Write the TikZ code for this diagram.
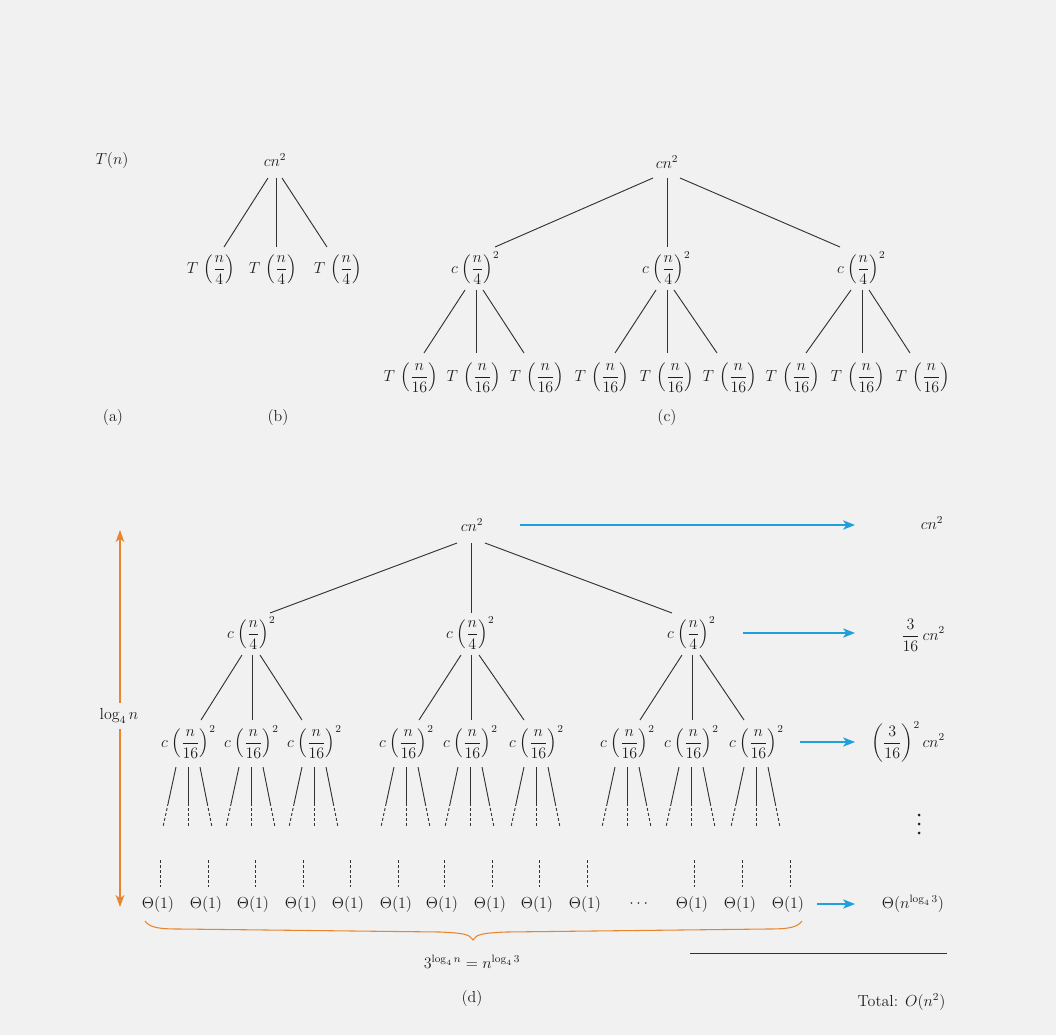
\documentclass[tikz,border=0pt]{standalone}
\usepackage{amsmath}
\usetikzlibrary{calc,arrows.meta}
\definecolor{bg}{HTML}{F1F1F1}
\definecolor{ink}{HTML}{1E1E1E}
\definecolor{lineg}{HTML}{333333}
\definecolor{cblue}{RGB}{30,160,220}
\definecolor{corange}{RGB}{232,134,48}
\newcommand{\cfr}[1]{\llap{$c\mkern1mu$}\left(\dfrac{n}{#1}\right)\!\rlap{$\displaystyle{\vphantom{\left(\dfrac{n}{#1}\right)}}^{2}$}}
\newcommand{\tfr}[1]{T\,\left(\dfrac{n}{#1}\right)}
\tikzset{
  lbl/.style={text=ink, inner sep=1pt, font=\fontsize{12}{14}\selectfont},
  edge/.style={draw=lineg, line width=0.7pt},
  dedge/.style={draw=lineg, line width=0.7pt, dash pattern=on 2.2pt off 1.6pt},
  barrow/.style={draw=cblue, line width=0.9pt, -{Stealth[length=9pt,width=7pt,inset=2.5pt]}},
  oarrow/.style={draw=corange, line width=0.9pt, -{Stealth[length=9pt,width=6.5pt,inset=2.5pt]}},
}
\begin{document}
\begin{tikzpicture}[x=0.75pt,y=-0.75pt]
\fill[bg] (0,0) rectangle (1056,1035);
\useasboundingbox (0,0) rectangle (1056,1035);

% ---------- (a)
\node[lbl] (Tn) at (112,160) {$T(n)$};
\node[lbl] (la) at (113,418) {(a)};

% ---------- (b)
\node[lbl] (b0) at (275,160) {$cn^2$};
\node[lbl] (b1) at (211,270) {$\displaystyle\tfr{4}$};
\node[lbl] (b2) at (273,270) {$\displaystyle\tfr{4}$};
\node[lbl] (b3) at (338,270) {$\displaystyle\tfr{4}$};
\draw[edge] ($(b0)+(-7,18)$) -- ($(b1)+(13,-23)$);
\draw[edge] ($(b0)+(1,18)$) -- ($(b2)+(3,-23)$);
\draw[edge] ($(b0)+(7,18)$) -- ($(b3)+(-11,-23)$);
\node[lbl] (lb) at (278,418) {(b)};

% ---------- (c)
\node[lbl] (c0) at (667,162) {$cn^2$};
\foreach \i/\x in {1/476,2/667,3/862}{
  \node[lbl] (c\i) at (\x,268) {$\displaystyle\cfr{4}$};
}
\draw[edge] ($(c0)+(-14,16)$) -- ($(c1)+(19,-21)$);
\draw[edge] ($(c0)+(0,16)$) -- ($(c2)+(0,-21)$);
\draw[edge] ($(c0)+(13,16)$) -- ($(c3)+(-22,-21)$);
\foreach \n/\x in {c11/411,c12/474,c13/537,c21/602,c22/667,c23/730,c31/793,c32/858,c33/923}{
  \node[lbl] (\n) at (\x,378) {$\displaystyle\tfr{16}$};
}
\foreach \i in {1,2,3}{
  \draw[edge] ($(c\i)+(-11,22)$) -- ($(c\i1)+(13,-25)$);
  \draw[edge] ($(c\i)+(0,22)$) -- ($(c\i |- c\i2)+(0,-25)$);
  \draw[edge] ($(c\i)+(7,22)$) -- ($(c\i3)+(-13,-25)$);
}
\node[lbl] (lc) at (667,418) {(c)};

% ---------- (d)
\node[lbl] (d0) at (472,525) {$cn^2$};
\foreach \i/\x in {1/252,2/471,3/692}{
  \node[lbl] (d\i) at (\x,633) {$\displaystyle\cfr{4}$};
}
\draw[edge] ($(d0)+(-15,18)$) -- ($(d1)+(18,-20)$);
\draw[edge] ($(d0)+(-1,18)$) -- ($(d2)+(0,-20)$);
\draw[edge] ($(d0)+(13,18)$) -- ($(d3)+(-20,-20)$);
\foreach \n/\x in {d11/189,d12/252,d13/315,d21/407,d22/471,d23/537,d31/628,d32/692,d33/757}{
  \node[lbl] (\n) at (\x,742) {$\displaystyle\cfr{16}$};
}
\foreach \i in {1,2,3}{
  \draw[edge] ($(d\i)+(-10,22)$) -- ($(d\i1)+(12,-22)$);
  \draw[edge] ($(d\i)+(0,22)$) -- ($(d\i2)+(0,-22)$);
  \draw[edge] ($(d\i)+(8,22)$) -- ($(d\i3)+(-13,-22)$);
}
\foreach \n in {d11,d12,d13,d21,d22,d23,d31,d32,d33}{
  \foreach \a/\b in {-13/-26,-1/-1,11/23}{
    \draw[edge] ($(\n)+(\a,25)$) -- ($(\n)+({\a+0.6*(\b-\a)},61)$);
    \draw[dedge] ($(\n)+({\a+0.6*(\b-\a)},61)$) -- ($(\n)+(\b,85)$);
  }
}
% leaves
\foreach \n/\x in {t1/158,t2/206,t3/253,t4/301,t5/348,t6/396,t7/442,t8/490,t9/537,t10/585,t11/692,t12/740,t13/788}{
  \node[lbl] (\n) at (\x,904) {$\Theta(1)$};
  \draw[dedge] ($(\n)+(2,-44)$) -- ($(\n)+(2,-17)$);
}
\node[lbl] (tdots) at (640,904) {$\cdots$};

% right column
\coordinate (aend) at (855,0);
\node[lbl] (r0) at (932,523) {$cn^2$};
\node[lbl] (r1) at (923,635) {$\displaystyle\frac{3}{16}\,cn^2$};
\node[lbl] (r2) at (908,742) {$\displaystyle\left(\frac{3}{16}\right)^{2} cn^2$};
\coordinate (r3) at (919,824);
\foreach \dy in {-9,0,9}{
  \fill[ink] ($(r3)+(0,\dy)$) circle[radius=1.5];
}
\node[lbl] (r4) at (913,904) {$\Theta(n^{\log_4 3})$};
\draw[barrow] ($(d0)+(48,0)$) -- (aend |- d0);
\draw[barrow] ($(d3)+(51,0)$) -- (aend |- d3);
\draw[barrow] ($(d33)+(43,0)$) -- (aend |- d33);
\draw[barrow] ($(t13)+(29,0)$) -- (aend |- t13);

% height arrow
\coordinate (otop) at (120,530);
\coordinate (obot) at (120,907);
\node[lbl, inner sep=4pt] (lg) at (119,716) {$\log_4 n$};
\draw[oarrow] (lg.north -| otop) -- (otop);
\draw[oarrow] (lg.south -| obot) -- (obot);

% brace
\draw[corange, line width=0.8pt]
  (145,921) .. controls (150,928) and (160,929) .. (180,929)
  -- (440,932) .. controls (462,933) and (470,934) .. (473,940)
  .. controls (476,934) and (484,933) .. (506,932)
  -- (767,929) .. controls (787,929) and (797,928) .. (802,921);
\node[lbl] (bl) at (472,962) {$3^{\log_4 n} = n^{\log_4 3}$};
\node[lbl] (ld) at (472,998) {(d)};

% total
\draw[lineg, line width=0.7pt] (690,953) -- (947,953);
\node[lbl, anchor=east] (tot) at (947,1002) {Total: $O(n^2)$};
\end{tikzpicture}
\end{document}
